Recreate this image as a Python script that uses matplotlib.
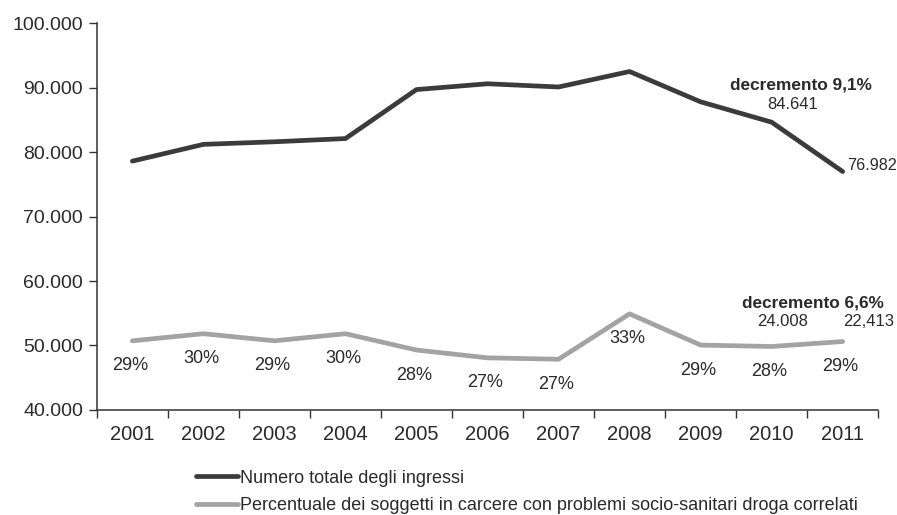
import matplotlib
matplotlib.use("Agg")
import matplotlib.pyplot as plt
from matplotlib.ticker import FuncFormatter, FixedLocator

years = ["2001", "2002", "2003", "2004", "2005", "2006", "2007", "2008", "2009", "2010", "2011"]
ingressi = [78600, 81200, 81600, 82100, 89700, 90600, 90100, 92500, 87800, 84641, 76982]
percentuale = [29.2, 30.2, 29.2, 30.2, 27.9, 26.8, 26.6, 33.0, 28.6, 28.4, 29.1]
droga_2010, droga_2011 = "24.008", "22,413"

dark = "#3b3b3b"
light = "#a3a3a3"
txt = "#2a2a2a"

plt.rcParams["font.family"] = ["Liberation Sans", "DejaVu Sans"]

fig = plt.figure(figsize=(8.97, 5.15), dpi=100)
ax = fig.add_axes([0.108, 0.204, 0.871, 0.751])
x = list(range(len(years)))

ax.plot(x, ingressi, color=dark, lw=3.4, solid_capstyle="round", solid_joinstyle="round",
        label="Numero totale degli ingressi", zorder=3)
ax.set_ylim(40000, 100000)
ax.set_xlim(-0.5, len(years) - 0.5)
ax.yaxis.set_major_locator(FixedLocator(range(40000, 100001, 10000)))
ax.yaxis.set_major_formatter(FuncFormatter(lambda v, p: f"{int(v):,}".replace(",", ".")))
ax.set_xticks([i - 0.5 for i in range(len(years) + 1)])
ax.set_xticklabels([])
ax.set_xticks(x, minor=True)
ax.set_xticklabels(years, minor=True, fontsize=14.5, color=txt)
ax.tick_params(axis="x", which="minor", length=0, pad=11)
ax.tick_params(axis="x", which="major", length=6, width=1, color="#333333", direction="out")
ax.tick_params(axis="y", length=6, width=1, color="#333333", labelsize=14, labelcolor=txt, pad=4)
for s in ["top", "right"]:
    ax.spines[s].set_visible(False)
for s in ["left", "bottom"]:
    ax.spines[s].set_color("#333333")
    ax.spines[s].set_linewidth(1.1)

# percentage series on its own hidden scale
ax2 = ax.twinx()
ax2.plot(x, percentuale, color=light, lw=3.4, solid_capstyle="round", solid_joinstyle="round",
         label="Percentuale dei soggetti in carcere con problemi socio-sanitari droga correlati",
         zorder=3)
ax2.set_ylim(19.45, 74.0)
ax2.axis("off")

for xi, p in zip(x, percentuale):
    ax2.annotate(f"{round(p)}%", (xi, p), xytext=(-1.5, -18), textcoords="offset points",
                 ha="center", va="center", fontsize=13, color=txt)

# annotations on the last two years
ax.annotate(f"{ingressi[-1]:,}".replace(",", "."), (x[-1], ingressi[-1]), xytext=(3, 4),
            textcoords="offset points", ha="left", va="center", fontsize=11.6, color=txt)
ax.annotate(f"{ingressi[-2]:,}".replace(",", "."), (x[-2], ingressi[-2]), xytext=(15, 13),
            textcoords="offset points", ha="center", va="center", fontsize=12, color=txt)
ax.annotate("decremento 9,1%", (x[-2], ingressi[-2]), xytext=(21, 27),
            textcoords="offset points", ha="center", va="center", fontsize=12.4,
            fontweight="bold", color=txt)
ax2.annotate(droga_2010, (x[-2], percentuale[-2]), xytext=(8, 18),
             textcoords="offset points", ha="center", va="center", fontsize=12, color=txt)
ax2.annotate(droga_2011, (x[-1], percentuale[-1]), xytext=(19, 14.5),
             textcoords="offset points", ha="center", va="center", fontsize=12, color=txt)
ax2.annotate("decremento 6,6%", (x[-2], percentuale[-2]), xytext=(30, 31),
             textcoords="offset points", ha="center", va="center", fontsize=12.4,
             fontweight="bold", color=txt)

h1, l1 = ax.get_legend_handles_labels()
h2, l2 = ax2.get_legend_handles_labels()
fig.legend(h1 + h2, l1 + l2, loc="upper left", bbox_to_anchor=(0.2185, 0.088),
           frameon=False, handlelength=2.35, handletextpad=0.1, labelspacing=0.58,
           borderaxespad=0, borderpad=0, prop={"size": 13}, labelcolor=txt)

fig.savefig("out.png", dpi=100, facecolor="white")
